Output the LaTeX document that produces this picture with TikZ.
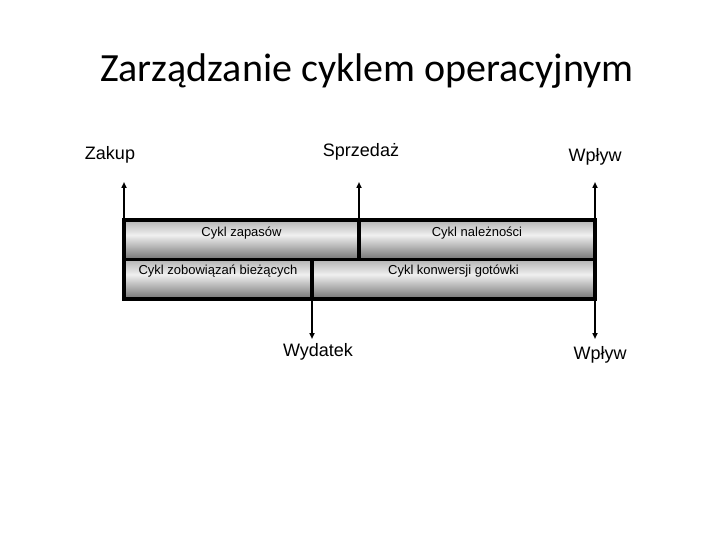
\documentclass[tikz,border=0pt]{standalone}
\usepackage{fontspec}
\setmainfont{Liberation Sans}
\newfontfamily\titlefont{Carlito}
\usetikzlibrary{arrows.meta}

\pgfdeclareverticalshading{cylbar}{100bp}{color(0bp)=(black!55); color(25bp)=(black!55);
  color(56bp)=(white!94!black); color(75bp)=(black!30); color(100bp)=(black!30)}

\tikzset{
  cell/.style={draw=black, line width=3.5pt, inner sep=0pt, outer sep=0pt, anchor=north west,
    shading=cylbar},
  celltext/.style={font=\fontsize{13}{15}\selectfont},
  event/.style={font=\fontsize{18}{21}\selectfont},
  flow/.style={line width=1.6pt, -{Triangle[width=5pt,length=6pt]}}
}

\begin{document}
\begin{tikzpicture}[x=1pt, y=-1pt]
      \useasboundingbox (0,0) rectangle (720,540);

      % Title
      \node[font=\titlefont\fontsize{40}{46}\selectfont] (title) at (367,71) {Zarządzanie cyklem operacyjnym};

      % Cycles
      \node[cell, minimum width=235pt, minimum height=39.5pt] (zap) at (124,220) {};
      \node[cell, minimum width=236pt, minimum height=39.5pt] (nal) at (359,220) {};
      \node[cell, minimum width=188pt, minimum height=39.5pt] (zob) at (124,259.5) {};
      \node[cell, minimum width=283pt, minimum height=39.5pt] (konw) at (312,259.5) {};

      \node[celltext] (zapT) at ([yshift=7pt]zap.center) {Cykl zapasów};
      \node[celltext] (nalT) at ([yshift=7pt]nal.center) {Cykl należności};
      \node[celltext] (zobT) at ([yshift=8pt]zob.center) {Cykl zobowiązań bieżących};
      \node[celltext] (konwT) at ([yshift=8pt]konw.center) {Cykl konwersji gotówki};

      % Labels
      \node[event] (zakup) at (110,155) {Zakup};
      \node[event] (sprz) at (361,152) {Sprzedaż};
      \node[event] (wplywA) at (595,157) {Wpływ};
      \node[event] (wyd) at (318,352) {Wydatek};
      \node[event] (wplywB) at (600,355) {Wpływ};

      % Arrow ends
      \coordinate (zakupE) at (124,182);
      \coordinate (sprzE) at (359,182);
      \coordinate (wplywAE) at (595,182);
      \coordinate (wydE) at (312,339);
      \coordinate (wplywBE) at (595,339);

      % Events
      \draw[flow] (zap.north west) -- (zakupE);
      \draw[flow] (zap.south east) -- (sprzE);
      \draw[flow] (nal.north east) -- (wplywAE);
      \draw[flow] (zob.south east) -- (wydE);
      \draw[flow] (konw.south east) -- (wplywBE);

\end{tikzpicture}
\end{document}
